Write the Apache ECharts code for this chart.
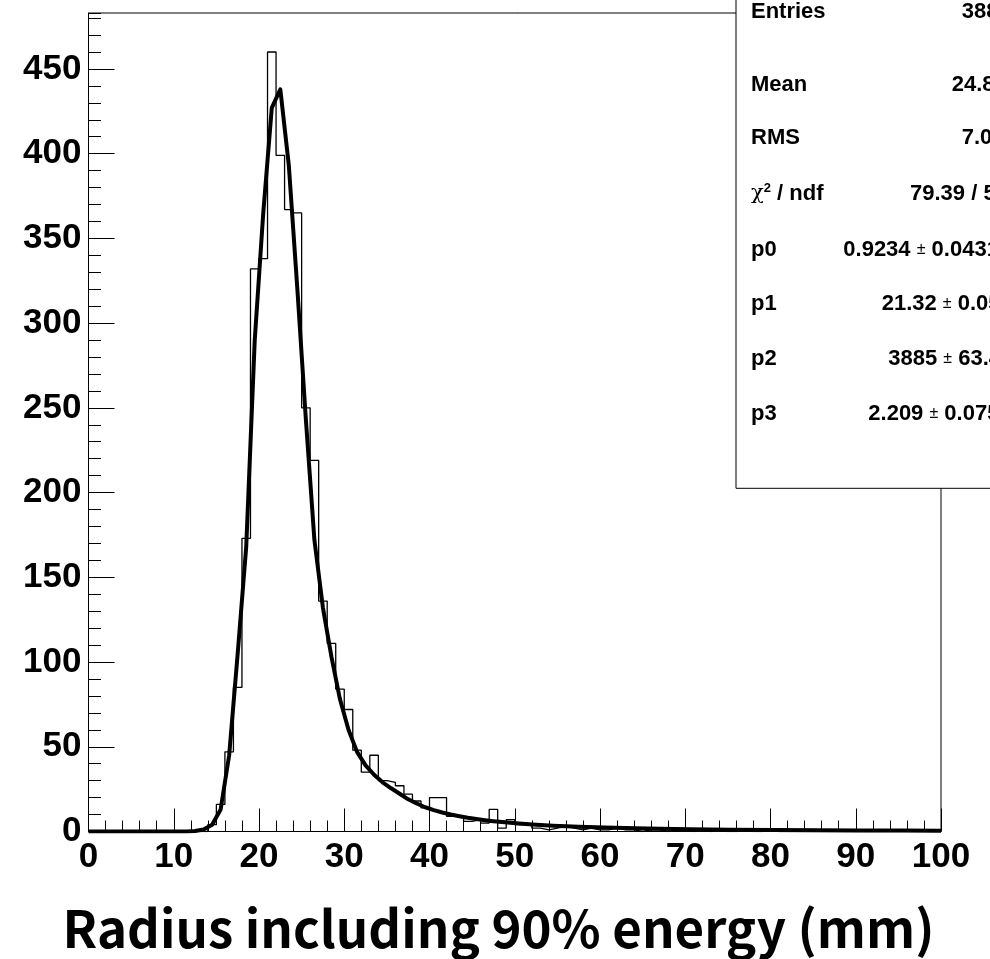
<!DOCTYPE html>
<html><head><meta charset="utf-8">
<script src="https://cdn.jsdelivr.net/npm/echarts@6/dist/echarts.min.js"></script>
<style>html,body{margin:0;padding:0;background:#fff;overflow:hidden}#c{width:990px;height:959px}</style>
</head><body><div id="c"></div>
<script>
// ---- data ----
const binEdges = [0,1,2,3,4,5,6,7,8,9,10,11,12,13,14,15,16,17,18,19,20,21,22,23,24,25,26,27,28,29,
  30,31,32,33,34,35,36,37,38,39,40,41,42,43,44,45,46,47,48,49,50,51,52,53,54,55,56,57,58,59,
  60,61,62,63,64,65,66,67,68,69,70,71,72,73,74,75,76,77,78,79,80,81,82,83,84,85,86,87,88,89,
  90,91,92,93,94,95,96,97,98,99,100];
const binCounts = [0,0,0,0,0,0,0,0,0,0,0,0,0,0,4,16,47,85,173,332,
  338,460,399,367,365,250,219,136,111,84,72,48,35,45,30,29,27,22,18,14,
  20,20,9,9,6,7,5,13,2,7,4,4,2,1,2,3,2,1,2,1,
  1,2,1,1,0,1,1,0,1,1,0,1,0,1,0,0,1,0,0,1,
  0,0,0,0,0,0,0,0,0,0,0,0,0,0,0,0,0,0,0,0];
const fitX = [0,11.5,12.5,13.5,14.5,15.5,16.5,17.5,18.5,19.5,20.5,21.5,22.5,23.5,24.5,25.5,26.5,27.5,28.5,29.5,
  30.5,31.5,32.5,33.5,34.5,35.5,36.5,37.5,38.5,39.5,40.5,41.5,42.5,43.5,44.5,45.5,46.5,47.5,48.5,49.5,
  50.5,52.5,54.5,57.5,60.5,65.5,70.5,75.5,80.5,85.5,90.5,95.5,100];
const fitY = [0,0,0.3,1.2,4,13,45,105,168,290,365,427,438,393,320,243,172,132,103,78,
  60,47,39,33.5,29,25.5,22.3,19,16.5,14.3,12.6,11.2,10,9,8.1,7.4,6.7,6.1,5.6,5.1,
  4.7,4.0,3.4,2.8,2.3,1.7,1.3,1.05,0.9,0.75,0.65,0.55,0.5];
const statLabels = ['Entries','Mean','RMS','CHI','p0','p1','p2','p3'];
const statValues = ['3884','24.84','7.034','79.39 / 55','0.9234|0.0431','21.32|0.058','3885|63.4','2.209|0.075'];
const xTitle = 'Radius including 90% energy (mm)';

// ---- layout ----
const FONT = 'Liberation Sans';
const rowY = [11.5, 84.7, 137.7, 194, 249.5, 304, 359, 414];
const valX = [961.7, 951.7, 961.7, 910, 843.3, 881.7, 888.3, 868.3];

const histData = binCounts.map((c, i) => [binEdges[i], c]);
histData.push([binEdges[binEdges.length - 1], binCounts[binCounts.length - 1]]);
const fitData = fitX.map((x, i) => [x, fitY[i]]);

const rich = {
  v: {fontFamily: FONT, fontWeight: 'bold', fontSize: 22, fill: '#000', color: '#000'},
  pm: {fontFamily: FONT, fontWeight: 'normal', fontSize: 16, fill: '#000', color: '#000'},
  sup: {fontFamily: FONT, fontWeight: 'bold', fontSize: 13, fill: '#000', color: '#000', verticalAlign: 'top', padding: [0, 0, 12, 0]},
  chi: {fontFamily: 'DejaVu Serif', fontWeight: 'normal', fontSize: 21, fill: '#000', color: '#000'}
};

const graphics = [{
  type: 'rect', z: 100, shape: {x: 736, y: -5, width: 300, height: 493.3},
  style: {fill: '#fff', stroke: '#000', lineWidth: 1}
}, {
  type: 'text', z: 101, x: 498.5, y: 929,
  style: {text: xTitle, fontFamily: 'Noto Sans CJK JP', fontWeight: 'bold', fontSize: 51, fill: '#000',
    align: 'center', verticalAlign: 'middle'}
}];
statLabels.forEach((lab, i) => {
  const txt = lab === 'CHI' ? '{chi|χ}{sup|2}{v| / ndf}' : '{v|' + lab + '}';
  graphics.push({type: 'text', z: 101, x: 751, y: rowY[i],
    style: {text: txt, rich: rich, verticalAlign: 'middle', align: 'left'}});
  const val = statValues[i];
  const vt = val.indexOf('|') >= 0 ? '{v|' + val.split('|')[0] + ' }{pm|±}{v| ' + val.split('|')[1] + '}' : '{v|' + val + '}';
  graphics.push({type: 'text', z: 101, x: valX[i], y: rowY[i],
    style: {text: vt, rich: rich, verticalAlign: 'middle', align: 'left'}});
});

const chart = echarts.init(document.getElementById('c'), null, {renderer: 'canvas'});
const axisLabelStyle = {fontFamily: FONT, fontWeight: 'bold', fontSize: 35, color: '#000'};
chart.setOption({
  animation: false,
  backgroundColor: '#fff',
  grid: {left: 88.5, right: 49, top: 13, bottom: 127.5, show: true, borderColor: '#000', borderWidth: 1,
    containLabel: false, outerBoundsMode: 'none'},
  xAxis: {
    type: 'value', min: 0, max: 100, interval: 10,
    axisLine: {show: true, onZero: false, lineStyle: {color: '#000', width: 1}},
    axisTick: {show: true, inside: true, length: 23, lineStyle: {color: '#000', width: 1}},
    minorTick: {show: true, splitNumber: 5, length: 11, lineStyle: {color: '#000', width: 1}},
    axisLabel: Object.assign({margin: 8}, axisLabelStyle),
    splitLine: {show: false}, minorSplitLine: {show: false}
  },
  yAxis: [{
    type: 'value', min: 0, max: 483, interval: 50,
    axisLine: {show: true, onZero: false, lineStyle: {color: '#000', width: 1}},
    axisTick: {show: true, inside: true, length: 26, lineStyle: {color: '#000', width: 1}},
    axisLabel: Object.assign({margin: 7, showMaxLabel: false}, axisLabelStyle),
    splitLine: {show: false}
  }, {
    type: 'value', min: 0, max: 483, interval: 10, position: 'left',
    axisLine: {show: false},
    axisTick: {show: true, inside: true, length: 12.5, lineStyle: {color: '#000', width: 1}},
    axisLabel: {show: false}, splitLine: {show: false}
  }],
  series: [{
    type: 'line', name: 'hist', data: histData, step: 'end', symbol: 'none',
    xAxisIndex: 0, yAxisIndex: 0, clip: true,
    lineStyle: {color: '#000', width: 1.3}
  }, {
    type: 'line', name: 'fit', data: fitData, symbol: 'none', smooth: false,
    xAxisIndex: 0, yAxisIndex: 0,
    lineStyle: {color: '#000', width: 4, join: 'round'}
  }],
  graphic: graphics
});
</script></body></html>
